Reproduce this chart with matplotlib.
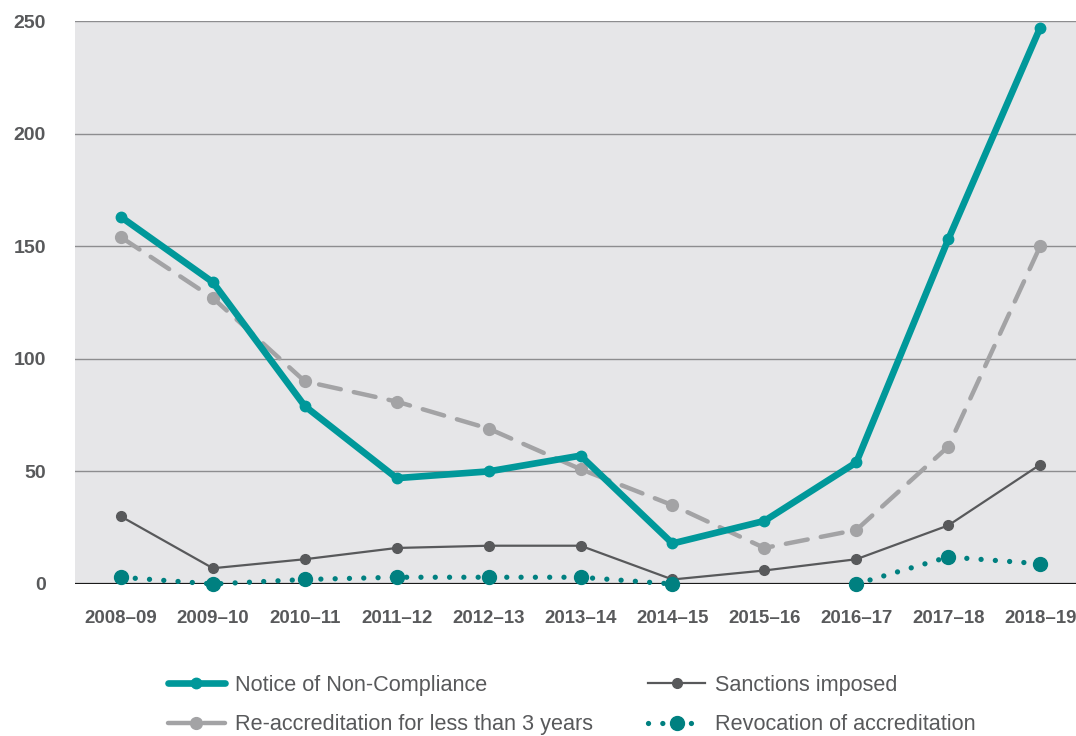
import matplotlib
matplotlib.use("Agg")
import matplotlib.pyplot as plt
import numpy as np

plt.rcParams["font.family"] = ["Liberation Sans", "DejaVu Sans"]

years = ["2008–09", "2009–10", "2010–11", "2011–12", "2012–13", "2013–14",
         "2014–15", "2015–16", "2016–17", "2017–18", "2018–19"]
notice = [163, 134, 79, 47, 50, 57, 18, 28, 54, 153, 247]
reaccred = [154, 127, 90, 81, 69, 51, 35, 16, 24, 61, 150]
sanctions = [30, 7, 11, 16, 17, 17, 2, 6, 11, 26, 53]
revocation = [3, 0, 2, 3, 3, 3, 0, np.nan, 0, 12, 9]

TEXT = "#58595b"
x = np.arange(len(years))

fig = plt.figure(figsize=(10.76, 7.36), dpi=100)
ax = fig.add_axes([75 / 1076, 1 - 584 / 736, 1 - 75 / 1076, (584 - 21) / 736])
ax.set_facecolor("#e6e6e8")

for v in [50, 100, 150, 200, 250]:
    ax.axhline(v, color="#8d8d8f", linewidth=1.0, zorder=1)
ax.axhline(0, color="#1a1a1a", linewidth=1.6, zorder=1)

l_notice, = ax.plot(x, notice, color="#00989a", linewidth=4.8, marker="o",
                    markersize=7.5, solid_capstyle="round", zorder=4,
                    label="Notice of Non-Compliance")
l_reacc, = ax.plot(x, reaccred, color="#a3a3a5", linewidth=3.2, marker="o",
                   markersize=8.5, linestyle=(0, (5, 3)), dash_capstyle="round",
                   zorder=3, label="Re-accreditation for less than 3 years")
l_sanc, = ax.plot(x, sanctions, color="#58595b", linewidth=1.6, marker="o",
                  markersize=7, zorder=3, label="Sanctions imposed")
l_rev, = ax.plot(x, revocation, color="#008080", linewidth=3.8, marker="o",
                 markersize=10, linestyle=(0, (0.01, 2.7)), dash_capstyle="round",
                 zorder=5, clip_on=False, label="Revocation of accreditation")

ax.set_xlim(-0.5, 10.39)
ax.set_ylim(0, 250)
ax.set_yticks([0, 50, 100, 150, 200, 250])
ax.set_xticks(x)
ax.set_xticklabels(years)
ax.tick_params(axis="y", length=0, pad=21, labelsize=14, labelcolor=TEXT)
ax.tick_params(axis="x", length=0, pad=19, labelsize=13.4, labelcolor=TEXT)
for lab in ax.get_xticklabels() + ax.get_yticklabels():
    lab.set_fontweight("bold")
for s in ax.spines.values():
    s.set_visible(False)

leg = fig.legend(handles=[l_notice, l_reacc, l_sanc, l_rev], ncol=2,
                 loc="upper left", bbox_to_anchor=(168 / 1076, 1 - 674.5 / 736),
                 frameon=False, fontsize=15.6, handlelength=2.63,
                 handletextpad=0.46, columnspacing=2.56, labelspacing=0.86,
                 borderaxespad=0, borderpad=0)
for t in leg.get_texts():
    t.set_color(TEXT)

fig.savefig("out.png", dpi=100)
